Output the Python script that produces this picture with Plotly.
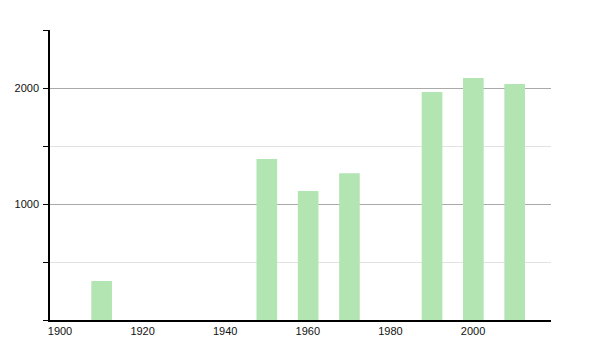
import plotly.graph_objects as go

years = [1910, 1950, 1960, 1970, 1990, 2000, 2010]
population = [336, 1388, 1112, 1265, 1966, 2086, 2034]
x_ticks = [1900, 1920, 1940, 1960, 1980, 2000]
y_ticks = [1000, 2000]

fig = go.Figure()
fig.add_trace(go.Bar(
    x=years, y=population, width=5, offset=0,
    marker=dict(color="#b3e5b3", line=dict(width=0)),
))

fig.update_layout(
    width=600, height=350,
    margin=dict(l=50, r=49, t=30, b=30),
    paper_bgcolor="white", plot_bgcolor="white",
    showlegend=False,
    font=dict(family="Liberation Sans, Arial, sans-serif", size=11, color="#111"),
)
fig.update_xaxes(
    range=[1900, 2021.3],
    tickvals=x_ticks, ticktext=[str(v) for v in x_ticks],
    showgrid=False, zeroline=False,
    showline=True, linecolor="black", linewidth=1.5,
    ticks="", ticklabelshift=10, ticklabelstandoff=0,
)
fig.update_yaxes(
    range=[0, 2500],
    tickvals=y_ticks, ticktext=[str(v) for v in y_ticks],
    showgrid=True, gridcolor="#aaaaaa", gridwidth=1,
    zeroline=False,
    showline=True, linecolor="black", linewidth=1.5,
    ticks="outside", ticklen=5, tickcolor="black", tickwidth=1,
    ticklabelstandoff=2,
    minor=dict(dtick=500, tick0=0, showgrid=True, gridcolor="#e2e2e2", gridwidth=1,
               ticks="outside", ticklen=5, tickcolor="black", tickwidth=1),
)

fig.write_html("out.html")
